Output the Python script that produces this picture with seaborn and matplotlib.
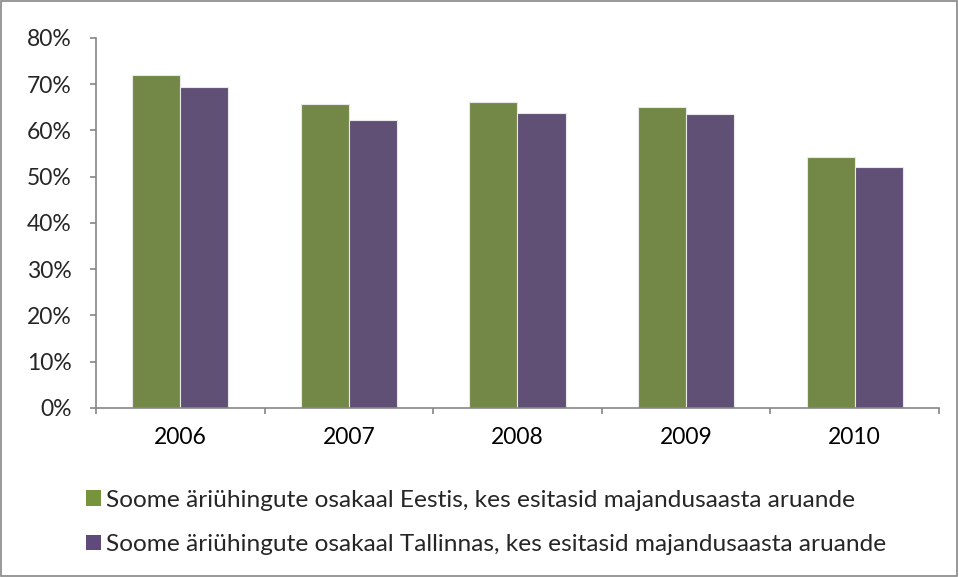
import pandas as pd
import matplotlib.pyplot as plt
import matplotlib.ticker as ticker
import matplotlib.patches as mpatches
import seaborn as sns

years = ['2006', '2007', '2008', '2009', '2010']
eestis = [0.72, 0.657, 0.662, 0.651, 0.543]
tallinnas = [0.693, 0.623, 0.637, 0.636, 0.522]
series_names = ['Soome äriühingute osakaal Eestis, kes esitasid majandusaasta aruande',
                'Soome äriühingute osakaal Tallinnas, kes esitasid majandusaasta aruande']
colors = ['#77933C', '#604A7B']

df = pd.DataFrame({
    'year': years * 2,
    'value': eestis + tallinnas,
    'series': [series_names[0]] * len(years) + [series_names[1]] * len(years),
})

sns.set_style('white')
plt.rcParams['font.family'] = ['Lato', 'DejaVu Sans']

fig = plt.figure(figsize=(9.59, 5.77), dpi=100)
ax = fig.add_axes([0.1001, 0.2929, 0.879, 0.6413])

sns.barplot(data=df, x='year', y='value', hue='series', palette=colors,
            width=0.57, gap=0, edgecolor='#e8e8e8', linewidth=0.8,
            errorbar=None, legend=False, ax=ax)

ax.set_xlim(-0.5, len(years) - 0.5)
ax.set_ylim(0, 0.8)
ax.yaxis.set_major_locator(ticker.MultipleLocator(0.1))
ax.yaxis.set_major_formatter(ticker.PercentFormatter(1.0, decimals=0))
ax.set_xlabel('')
ax.set_ylabel('')

gray = '#868686'
for s in ['top', 'right']:
    ax.spines[s].set_visible(False)
for s in ['left', 'bottom']:
    ax.spines[s].set_color(gray)
    ax.spines[s].set_linewidth(1.2)

# year labels centred, tick marks between categories
ax.xaxis.set_minor_locator(ticker.FixedLocator([i - 0.5 for i in range(len(years) + 1)]))
ax.tick_params(axis='x', which='major', length=0, pad=14, labelsize=16.5, colors='black')
ax.tick_params(axis='x', which='minor', length=4.5, width=1.2, color=gray, direction='out', bottom=True)
ax.tick_params(axis='y', length=4.5, width=1.2, color=gray, direction='out', left=True,
               labelsize=16.5, pad=13)

handles = [mpatches.Patch(facecolor=c, edgecolor='none', label=n) for c, n in zip(colors, series_names)]
fig.legend(handles=handles, loc='upper left', bbox_to_anchor=(0.079, 0.168),
           frameon=False, fontsize=17.6, handlelength=0.62, handleheight=0.62,
           handletextpad=0.2, labelspacing=0.95, borderaxespad=0)

fig.patches.append(mpatches.Rectangle((0.001, 0.001), 0.997, 0.997, transform=fig.transFigure,
                                      fill=False, edgecolor=gray, linewidth=1.2))

fig.savefig('out.png', dpi=100)
